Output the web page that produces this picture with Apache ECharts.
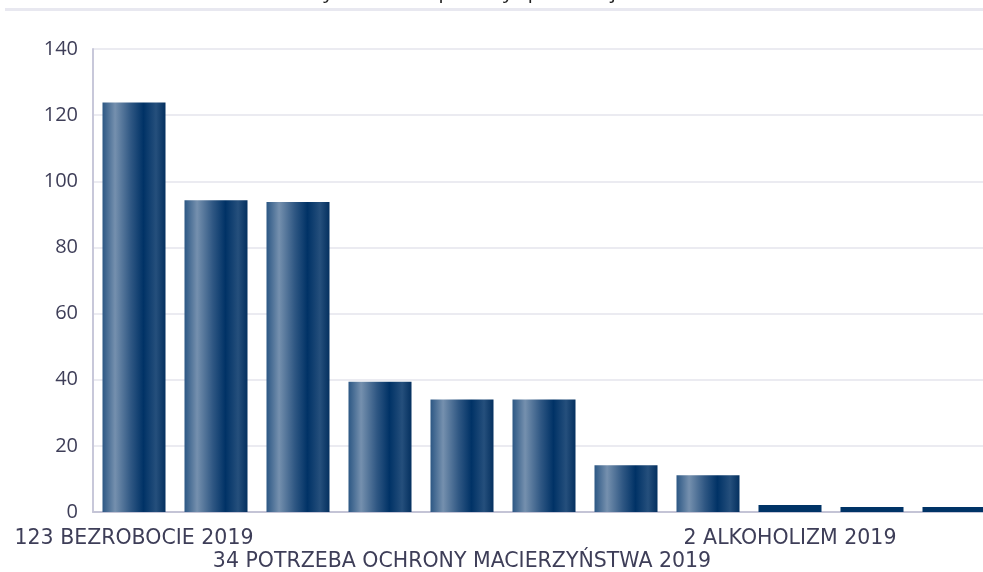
<!DOCTYPE html>
<html>
<head>
<meta charset="utf-8">
<script src="https://cdn.jsdelivr.net/npm/echarts@6/dist/echarts.min.js"></script>
<style>
html,body{margin:0;padding:0;background:#fff;overflow:hidden;}
#chart{width:995px;height:572px;}
</style>
</head>
<body>
<div id="chart"></div>
<script>
var categories = [
  "123 BEZROBOCIE 2019",
  "94 UBÓSTWO 2019",
  "94 DŁUGOTRWAŁA LUB CIĘŻKA CHOROBA 2019",
  "39 NIEPEŁNOSPRAWNOŚĆ 2019",
  "34 POTRZEBA OCHRONY MACIERZYŃSTWA 2019",
  "34 BEZRADNOŚĆ W SPRAWACH OPIEKUŃCZO-WYCHOWAWCZYCH 2019",
  "14 PRZEMOC W RODZINIE 2019",
  "11 BEZDOMNOŚĆ 2019",
  "2 ALKOHOLIZM 2019",
  "1 NARKOMANIA 2019",
  "1 ZDARZENIE LOSOWE 2019"
];
var values = [123.8, 94.3, 93.7, 39.4, 34.0, 34.0, 14.1, 11.1, 2.1, 1.5, 1.5];
var yTicks = [0, 20, 40, 60, 80, 100, 120, 140];
var firstRowLabels = [0, 8];
var secondRowLabels = [4];
var titleText = "Powody udzielenia pomocy społecznej w 2019 roku";

var gradient = new echarts.graphic.LinearGradient(0, 0, 1, 0, [
  {offset: 0, color: '#2c5784'},
  {offset: 0.2, color: '#7590ae'},
  {offset: 0.45, color: '#2f5783'},
  {offset: 0.65, color: '#003266'},
  {offset: 0.85, color: '#254f7c'},
  {offset: 1, color: '#04305f'}
]);

var data = values.map(function (v) {
  return {
    value: v,
    itemStyle: { color: v < 5 ? '#003366' : gradient }
  };
});

var labelStyle = {
  margin: 16,
  hideOverlap: false,
  fontFamily: 'DejaVu Sans',
  fontSize: 20.5,
  color: '#3e3e58'
};

var chart = echarts.init(document.getElementById('chart'), null, {renderer: 'canvas'});
chart.setOption({
  animation: false,
  backgroundColor: '#ffffff',
  title: {
    text: titleText,
    left: 'center',
    top: -23,
    textStyle: {fontFamily: 'Open Sans', fontSize: 20, fontWeight: 'normal', color: '#222'}
  },
  graphic: [{
    type: 'rect',
    shape: {x: 5, y: 8, width: 990, height: 3},
    style: {fill: '#e8e8f0'},
    z: 100
  }],
  grid: {left: 93, top: 49, right: 0, height: 464, containLabel: false},
  xAxis: [{
    type: 'category',
    data: categories,
    axisLine: {lineStyle: {color: '#c4c4d6', width: 2}},
    axisTick: {show: false},
    axisLabel: Object.assign({}, labelStyle, {
      interval: function (idx) { return firstRowLabels.indexOf(idx) >= 0; }
    })
  }, {
    type: 'category',
    data: categories,
    position: 'bottom',
    offset: 23,
    axisLine: {show: false},
    axisTick: {show: false},
    splitLine: {show: false},
    axisLabel: Object.assign({}, labelStyle, {
      interval: function (idx) { return secondRowLabels.indexOf(idx) >= 0; }
    })
  }],
  yAxis: {
    type: 'value',
    min: yTicks[0],
    max: yTicks[yTicks.length - 1],
    interval: 20,
    axisLine: {show: true, lineStyle: {color: '#c8c8da', width: 2}},
    axisTick: {show: false},
    axisLabel: {
      margin: 15,
      fontFamily: 'Open Sans',
      fontSize: 20,
      color: '#3e3e58'
    },
    splitLine: {lineStyle: {color: '#ebebf1', width: 2}}
  },
  series: [{
    type: 'bar',
    xAxisIndex: 0,
    data: data,
    barWidth: 63
  }]
});
</script>
</body>
</html>
